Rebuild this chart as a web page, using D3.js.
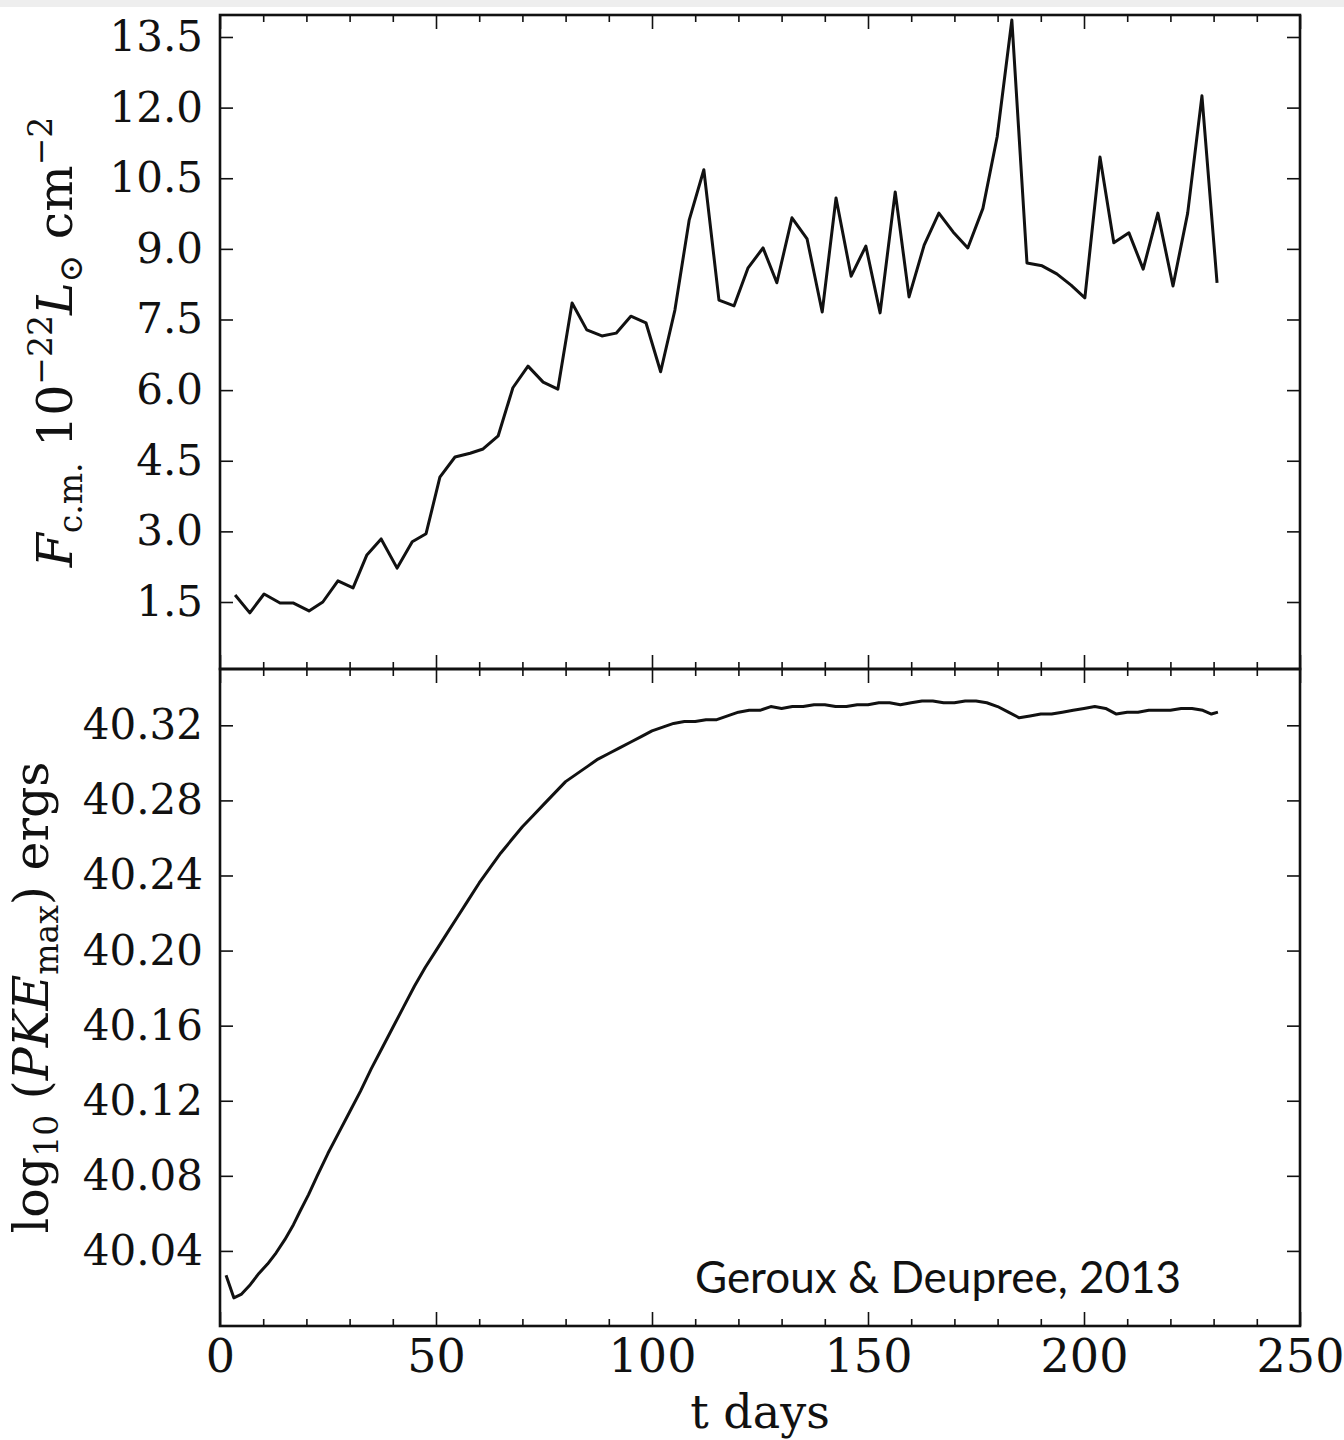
<!DOCTYPE html>
<html>
<head>
<meta charset="utf-8">
<script src="https://cdn.jsdelivr.net/npm/d3@7.9.0/dist/d3.min.js"></script>
<style>
  body { margin: 0; background: #fff; }
  text { font-family: "DejaVu Serif", serif; fill: #111; }
</style>
</head>
<body>
<svg id="chart" width="1344" height="1440"></svg>
<script>
// top panel: flux
const fluxDays = [3.5, 6.9, 10.2, 13.9, 16.9, 20.6, 23.8, 27.3, 30.8, 34.0, 37.3, 41.0, 44.5, 47.7,
  50.9, 54.4, 57.9, 60.9, 64.4, 67.8, 71.3, 74.8, 78.2, 81.5, 84.9, 88.4, 91.7, 95.1, 98.6,
  102.0, 105.3, 108.6, 112.0, 115.5, 119.0, 122.2, 125.7, 128.9, 132.4, 135.9, 139.4, 142.6,
  146.1, 149.5, 152.8, 156.3, 159.5, 163.0, 166.4, 169.7, 173.1, 176.6, 179.9, 183.3, 186.8,
  190.3, 193.7, 197.0, 200.2, 203.7, 206.9, 210.4, 213.7, 217.1, 220.6, 224.0, 227.3, 230.8];
const fluxValues = [1.65, 1.27, 1.67, 1.48, 1.48, 1.31, 1.5, 1.95, 1.8, 2.5, 2.84, 2.22, 2.78, 2.95,
  4.15, 4.58, 4.66, 4.75, 5.03, 6.05, 6.51, 6.17, 6.02, 7.85, 7.28, 7.15, 7.21, 7.57, 7.43,
  6.39, 7.7, 9.61, 10.68, 7.91, 7.79, 8.59, 9.02, 8.28, 9.66, 9.21, 7.66, 10.08,
  8.42, 9.06, 7.64, 10.21, 7.98, 9.08, 9.76, 9.36, 9.02, 9.86, 11.38, 13.86, 8.7,
  8.64, 8.47, 8.23, 7.96, 10.95, 9.13, 9.34, 8.57, 9.76, 8.21, 9.76, 12.25, 8.28];

// bottom panel: log10 PKE_max
const keDays = [1.4, 3.2, 5, 7, 9, 11, 13, 15, 17, 18.5, 20.5, 22.5, 25, 27.5, 30, 32.5, 35, 37.5,
  40, 42.5, 45, 47.5, 50, 52.5, 55, 57.5, 60, 62.5, 65, 67.5, 70, 72.5, 75, 77.5, 80, 82.5,
  85, 87.5, 90, 92.5, 95, 97.5, 100, 102.5, 105, 107.5, 110, 112.5, 115, 117.5, 120, 122.5,
  125, 127.5, 130, 132.5, 135, 137.5, 140, 142.5, 145, 147.5, 150, 152.5, 155, 157.5, 160,
  162.5, 165, 167.5, 170, 172.5, 175, 177.5, 180, 182.5, 185, 187.5, 190, 192.5, 195, 197.5,
  200, 202.5, 205, 207.5, 210, 212.5, 215, 217.5, 220, 222.5, 225, 227.5, 229.5, 231];
const keValues = [40.027, 40.015, 40.017, 40.022, 40.028, 40.033, 40.039, 40.046, 40.054, 40.061,
  40.070, 40.080, 40.092, 40.103, 40.114, 40.125, 40.137, 40.148, 40.159, 40.170, 40.181,
  40.191, 40.200, 40.209, 40.218, 40.227, 40.236, 40.244, 40.252, 40.259, 40.266, 40.272,
  40.278, 40.284, 40.290, 40.294, 40.298, 40.302, 40.305, 40.308, 40.311, 40.314, 40.317,
  40.319, 40.321, 40.322, 40.322, 40.323, 40.323, 40.325, 40.327, 40.328, 40.328, 40.330,
  40.329, 40.330, 40.330, 40.331, 40.331, 40.330, 40.330, 40.331, 40.331, 40.332, 40.332,
  40.331, 40.332, 40.333, 40.333, 40.332, 40.332, 40.333, 40.333, 40.332, 40.330, 40.327,
  40.324, 40.325, 40.326, 40.326, 40.327, 40.328, 40.329, 40.330, 40.329, 40.326, 40.327,
  40.327, 40.328, 40.328, 40.328, 40.329, 40.329, 40.328, 40.326, 40.327];

const xMajor = [0, 50, 100, 150, 200, 250];
const xMinor = d3.range(0, 251, 10).filter(d => d % 50 !== 0);
const fluxTicks = [1.5, 3.0, 4.5, 6.0, 7.5, 9.0, 10.5, 12.0, 13.5];
const keTicks = [40.04, 40.08, 40.12, 40.16, 40.20, 40.24, 40.28, 40.32];

const svg = d3.select('#chart');
const left = 220, right = 1300;
const top1 = 15, mid = 669, bot2 = 1326;

// thin grey strip along the very top of the screenshot
svg.append('rect').attr('x', 0).attr('y', 0).attr('width', 1344).attr('height', 7).attr('fill', '#eeeeee');

const x = d3.scaleLinear().domain([0, 250]).range([left, right]);
const yFlux = d3.scaleLinear().domain([0.077, 13.967]).range([mid, top1]);
const yKe = d3.scaleLinear().domain([40.0, 40.35]).range([bot2, mid]);

const MAJ = 14, MIN = 7, FS = 42, FX = 46, FL = 49, FSUB = 33;

// x ticks (all inward) on every horizontal spine
function xTicks(y, orient, labels) {
  const mk = orient === 'top' ? d3.axisTop : d3.axisBottom;
  svg.append('g').attr('class', labels ? 'xlab' : null).attr('transform', `translate(0,${y})`)
    .call(mk(x).tickValues(xMajor).tickSizeInner(-MAJ).tickSizeOuter(0).tickPadding(13)
      .tickFormat(labels ? d3.format('d') : ''));
  svg.append('g').attr('transform', `translate(0,${y})`)
    .call(mk(x).tickValues(xMinor).tickSizeInner(-MIN).tickSizeOuter(0).tickFormat(''));
}
xTicks(top1, 'top', false);
xTicks(mid, 'bottom', false);
xTicks(mid, 'top', false);
xTicks(bot2, 'bottom', true);

function yTicks(scale, values, fmt) {
  svg.append('g').attr('transform', `translate(${left},0)`)
    .call(d3.axisLeft(scale).tickValues(values).tickSizeInner(-13).tickSizeOuter(0).tickPadding(17).tickFormat(fmt));
  svg.append('g').attr('transform', `translate(${right},0)`)
    .call(d3.axisRight(scale).tickValues(values).tickSizeInner(-13).tickSizeOuter(0).tickFormat(''));
}
yTicks(yFlux, fluxTicks, d3.format('.1f'));
yTicks(yKe, keTicks, d3.format('.2f'));

svg.selectAll('.domain').remove();
svg.selectAll('.tick line').attr('stroke', '#111').attr('stroke-width', 1.6);
svg.selectAll('.tick text').attr('font-size', FS).attr('font-family', '"DejaVu Serif", serif').attr('fill', '#111');
svg.selectAll('.xlab .tick text').attr('font-size', FX);

// data lines
const lineFlux = d3.line().x((d, i) => x(fluxDays[i])).y(d => yFlux(d));
svg.append('path').attr('d', lineFlux(fluxValues))
  .attr('fill', 'none').attr('stroke', '#111').attr('stroke-width', 3).attr('stroke-linejoin', 'round');

const lineKe = d3.line().x((d, i) => x(keDays[i])).y(d => yKe(d));
svg.append('path').attr('d', lineKe(keValues))
  .attr('fill', 'none').attr('stroke', '#111').attr('stroke-width', 3).attr('stroke-linejoin', 'round');

// frames
[[top1, mid], [mid, bot2]].forEach(([a, b]) => {
  svg.append('rect').attr('x', left).attr('y', a).attr('width', right - left).attr('height', b - a)
    .attr('fill', 'none').attr('stroke', '#111').attr('stroke-width', 2.6);
});

// axis titles
svg.append('text').attr('x', 760).attr('y', 1428)
  .attr('text-anchor', 'middle').attr('font-size', FX).text('t days');

const t1 = svg.append('text').attr('transform', `translate(72,${(top1 + mid) / 2}) rotate(-90)`)
  .attr('text-anchor', 'middle').attr('font-size', FL);
t1.append('tspan').attr('font-style', 'italic').text('F');
t1.append('tspan').attr('font-size', FSUB).attr('dy', 10).text('c.m.');
t1.append('tspan').attr('dy', -10).text(' 10');
t1.append('tspan').attr('font-size', FSUB).attr('dy', -20).text('\u221222');
t1.append('tspan').attr('font-style', 'italic').attr('dy', 20).text('L');
t1.append('tspan').attr('font-size', FSUB).attr('dy', 10).text('\u2299');
t1.append('tspan').attr('dy', -10).text(' cm');
t1.append('tspan').attr('font-size', FSUB).attr('dy', -20).text('\u22122');

const t2 = svg.append('text').attr('transform', `translate(48,${(mid + bot2) / 2}) rotate(-90)`)
  .attr('text-anchor', 'middle').attr('font-size', FL);
t2.append('tspan').text('log');
t2.append('tspan').attr('font-size', FSUB).attr('dy', 10).text('10');
t2.append('tspan').attr('dy', -10).text(' (');
t2.append('tspan').attr('font-style', 'italic').text('PKE');
t2.append('tspan').attr('font-size', FSUB).attr('dy', 10).text('max');
t2.append('tspan').attr('dy', -10).text(') ergs');

// credit
svg.append('text').attr('x', 695).attr('y', 1293)
  .style('font-family', 'Lato, sans-serif')
  .attr('font-size', 44).text('Geroux & Deupree, 2013');
</script>
</body>
</html>
